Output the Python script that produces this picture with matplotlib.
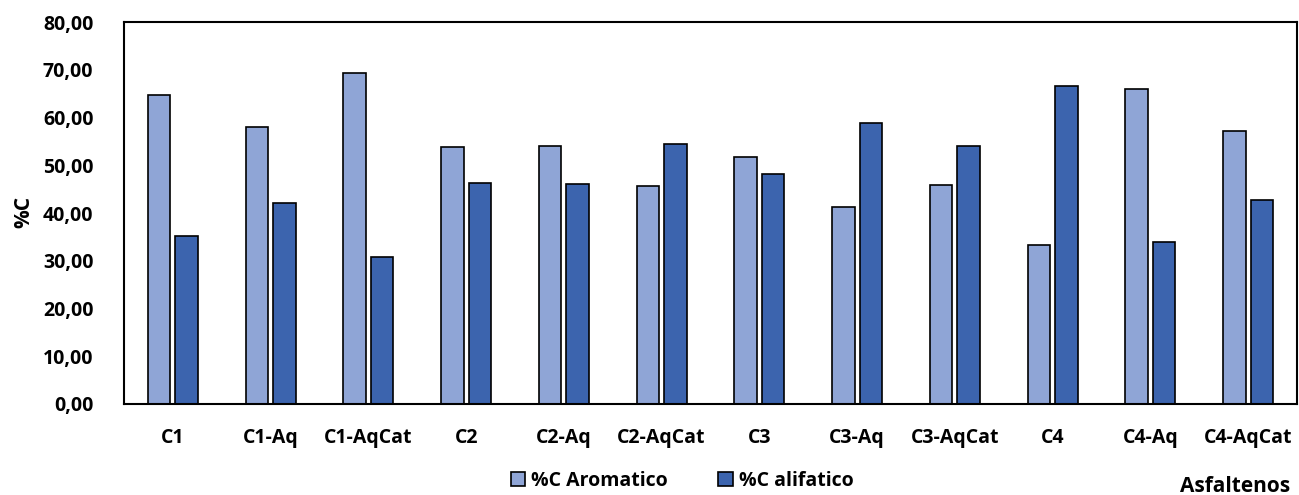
import numpy as np
import matplotlib.pyplot as plt
from matplotlib.ticker import FuncFormatter

plt.rcParams['font.family'] = ['Open Sans', 'DejaVu Sans']
plt.rcParams['font.weight'] = 'bold'

categorias = ['C1', 'C1-Aq', 'C1-AqCat', 'C2', 'C2-Aq', 'C2-AqCat',
              'C3', 'C3-Aq', 'C3-AqCat', 'C4', 'C4-Aq', 'C4-AqCat']
aromatico = [64.7, 58.0, 69.3, 53.8, 54.0, 45.6, 51.8, 41.2, 45.9, 33.4, 66.0, 57.2]
alifatico = [35.2, 42.0, 30.7, 46.2, 46.0, 54.4, 48.2, 58.8, 54.1, 66.6, 34.0, 42.8]

fig = plt.figure(figsize=(12.99, 4.95), dpi=100)
ax = fig.add_axes([124/1299, 1 - 404/495, (1297-124)/1299, (404-22)/495])

x = np.arange(len(categorias))
w = 0.23
off = 0.14
ax.bar(x - off, aromatico, w, color='#8FA5D6', edgecolor='black', linewidth=1.2,
       label='%C Aromatico')
ax.bar(x + off, alifatico, w, color='#3C64AE', edgecolor='black', linewidth=1.2,
       label='%C alifatico')

ax.set_xlim(-0.5, len(categorias) - 0.5)
ax.set_ylim(0, 80)
ax.set_yticks(np.arange(0, 81, 10))
ax.yaxis.set_major_formatter(FuncFormatter(lambda v, p: f"{v:.2f}".replace('.', ',')))
ax.set_xticks(x)
ax.set_xticklabels(categorias)
ax.tick_params(axis='both', length=0, labelsize=14)
ax.tick_params(axis='x', pad=17)
ax.tick_params(axis='y', pad=22)
for s in ax.spines.values():
    s.set_linewidth(1.5)

fig.text(24/1299, 1 - 212/495, '%C', rotation=90, ha='center', va='center',
         fontsize=15, fontweight='bold')
fig.text(1290/1299, 1 - 486/495, 'Asfaltenos', ha='right', va='center',
         fontsize=15, fontweight='bold')

ax.legend(loc='center', bbox_to_anchor=(682/1299, 1 - 481/495),
          bbox_transform=fig.transFigure, ncol=2, frameon=False,
          fontsize=14, handlelength=0.75, handleheight=0.75, handletextpad=0.3,
          columnspacing=2.6, borderpad=0)

fig.savefig('out.png', dpi=100)
